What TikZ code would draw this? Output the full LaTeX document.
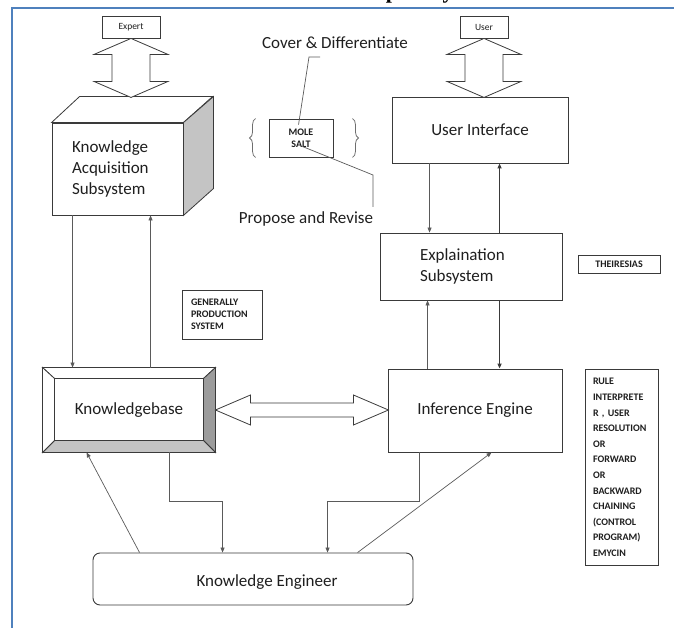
\documentclass[tikz,border=0pt]{standalone}
\usepackage{fontspec}
\setmainfont{Carlito}
\newfontfamily\titlefont{Liberation Serif}
\usetikzlibrary{calc,arrows.meta,decorations.pathreplacing}
\definecolor{ink}{HTML}{1F1F1F}
\definecolor{edge}{HTML}{3A3A3A}
\definecolor{wirec}{HTML}{5A5A5A}
\definecolor{frameblue}{HTML}{4F81BD}
\definecolor{shadeA}{HTML}{C4C4C4}
\definecolor{shadeB}{HTML}{9C9C9C}
\definecolor{bracec}{HTML}{6E6E6E}

\begin{document}
\begin{tikzpicture}[x=1pt,y=-1pt,
  box/.style={draw=edge, line width=0.9pt, fill=white, inner sep=0pt, text=ink},
  lab/.style={font=\fontsize{17}{21}\selectfont, text=ink},
  tiny/.style={font=\fontsize{9.5}{11}\selectfont},
  caps/.style={font=\bfseries\fontsize{10}{12}\selectfont},
  wire/.style={draw=wirec, line width=0.7pt},
  tip/.style={-{Triangle[length=5pt,width=4pt]}},
  heavy/.style={draw=edge, line width=1.3pt},
  block/.style={draw=edge, line width=0.8pt, fill=white, line join=miter},
]
\useasboundingbox (0,0) rectangle (674,628);
\clip (0,0) rectangle (674,628);

% heading, only its descenders fall inside the sheet
\node[anchor=base west, inner sep=0pt, font=\titlefont\bfseries\fontsize{22}{26}\selectfont] (title) at (360,-1) {Expert System};

% page frame
\draw[frameblue, line width=2.5pt] (12,628) -- (12,8) -- (674,8);

% ---------- nodes ----------
\node[box, tiny, minimum width=58, minimum height=22] (expert) at (131,27) {Expert};
\node[box, tiny, minimum width=48, minimum height=22] (user) at (484,27) {User};

% knowledge acquisition cube
\node[box, lab, minimum width=131, minimum height=92, text width=91, align=left] (kas) at (117.5,169) {Knowledge\\Acquisition\\Subsystem};
\draw[block] (kas.north west) -- ++(28,-26) -- ++(133,0) -- (kas.north east) -- cycle;
\draw[block, fill=shadeA] (kas.north east) -- ++(30,-26) -- ++(0,92) -- (kas.south east) -- cycle;

% bevelled knowledge base
\node[box, lab, minimum width=172, minimum height=84] (kb) at (129,410) {Knowledgebase};
\draw[block] (kb.north west) -- (kb.north east) -- ($(kb.north east)+(-12,11)$) -- ($(kb.north west)+(12,11)$) -- cycle;
\draw[block, fill=shadeB] (kb.north east) -- (kb.south east) -- ($(kb.south east)+(-12,-12)$) -- ($(kb.north east)+(-12,11)$) -- cycle;
\draw[block, fill=shadeA] (kb.south east) -- (kb.south west) -- ($(kb.south west)+(12,-12)$) -- ($(kb.south east)+(-12,-12)$) -- cycle;
\draw[block] (kb.south west) -- (kb.north west) -- ($(kb.north west)+(12,11)$) -- ($(kb.south west)+(12,-12)$) -- cycle;

\node[box, lab, minimum width=176, minimum height=66] (ui) at (480,130) {User Interface};
\node[box, lab, minimum width=182, minimum height=67, text width=102, align=left] (exp) at (471,266.5) {Explaination\\Subsystem};
\node[box, lab, minimum width=174, minimum height=83] (ie) at (475,410.5) {Inference Engine};

\node[box, rounded corners=7pt, minimum width=320, minimum height=52] (ke) at (253,579) {};
\node[lab, inner sep=0pt] (ketext) at (267,582) {Knowledge Engineer};

\node[box, caps, minimum width=64, minimum height=38, align=center] (mole) at (301,138) {MOLE\\SALT};
\node[box, caps, minimum width=80, minimum height=49, text width=62, align=left] (gps) at (222,314.5) {GENERALLY\\PRODUCTION\\SYSTEM};
\node[box, caps, minimum width=82, minimum height=18] (theo) at (619,264) {THEIRESIAS};
\node[box, font=\bfseries\fontsize{10}{15.6}\selectfont, minimum width=73, minimum height=196, text width=57, align=left] (rule) at (621.5,467.5)
  {RULE\\INTERPRETE\\R , USER\\RESOLUTION\\OR\\FORWARD\\OR\\BACKWARD\\CHAINING\\(CONTROL\\PROGRAM)\\EMYCIN};

\node[lab] (cover) at (335,43) {Cover \& Differentiate};
\node[lab] (propose) at (306,219) {Propose and Revise};

% ---------- block double arrows ----------
\draw[block] (expert.south) -- ++(37,16) -- ++(-18,0) -- ++(0,27) -- ++(18,0) -- ++(-37,16)
  -- ++(-37,-16) -- ++(18,0) -- ++(0,-27) -- ++(-18,0) -- cycle;
\draw[block] (user.south) -- ++(37,16) -- ++(-18,0) -- ++(0,27) -- ++(18,0) -- ++(-37,16)
  -- ++(-37,-16) -- ++(18,0) -- ++(0,-27) -- ++(-18,0) -- cycle;
\draw[block] (kb.east) -- ++(35,-15) -- ++(0,8) -- ++(103,0) -- ++(0,-8) -- ++(35,15)
  -- ++(-35,15) -- ++(0,-8) -- ++(-103,0) -- ++(0,8) -- cycle;

% ---------- connectors ----------
\draw[wire, tip] ($(kas.south west)+(21,0)$) -- ($(kb.north west)+(30,0)$);
\draw[wire, tip] ($(kb.north west)+(108,0)$) -- ($(kas.south west)+(99,0)$);

\draw[wire, tip] ($(ui.south west)+(38,0)$) -- ($(exp.north west)+(50,0)$);
\draw[heavy, tip] ($(exp.north west)+(120,0)$) -- ($(ui.south west)+(108,0)$);
\draw[wire, tip] ($(ie.north west)+(40,0)$) -- ($(exp.south west)+(48,0)$);
\draw[heavy, tip] ($(exp.south west)+(120,0)$) -- ($(ie.north west)+(112,0)$);

\draw[wire, tip] ($(ke.north west)+(47,0)$) -- ($(kb.south west)+(44,0)$);
\draw[wire, tip] ($(ke.north west)+(265,0)$) -- ($(ie.south west)+(104,0)$);
\draw[wire, tip] ($(kb.south west)+(127,0)$) |- ($(ke.north west)+(130,-51)$) -- ($(ke.north west)+(130,0)$);
\draw[wire, tip] ($(ie.south west)+(32,0)$) |- ($(ke.north west)+(235,-51)$) -- ($(ke.north west)+(235,0)$);

% callout leaders for the two methods
\coordinate (cvtail) at (320,57);
\coordinate (cvbend) at (309,57);
\draw[wire] (cvtail) -- (cvbend) -- ($(mole.north west)+(30,6)$);
\coordinate (prbend) at (373,175);
\coordinate (prtail) at (373,207);
\draw[wire] ($(mole.north west)+(34,28)$) -- (prbend) -- (prtail);

% braces around the shell box
\draw[bracec, line width=0.8pt, decorate, decoration={brace, amplitude=6pt}]
  ($(mole.south west)+(-13,0)$) -- ($(mole.north west)+(-13,0)$);
\draw[bracec, line width=0.8pt, decorate, decoration={brace, amplitude=6pt}]
  ($(mole.north east)+(19,0)$) -- ($(mole.south east)+(19,0)$);
\end{tikzpicture}
\end{document}
